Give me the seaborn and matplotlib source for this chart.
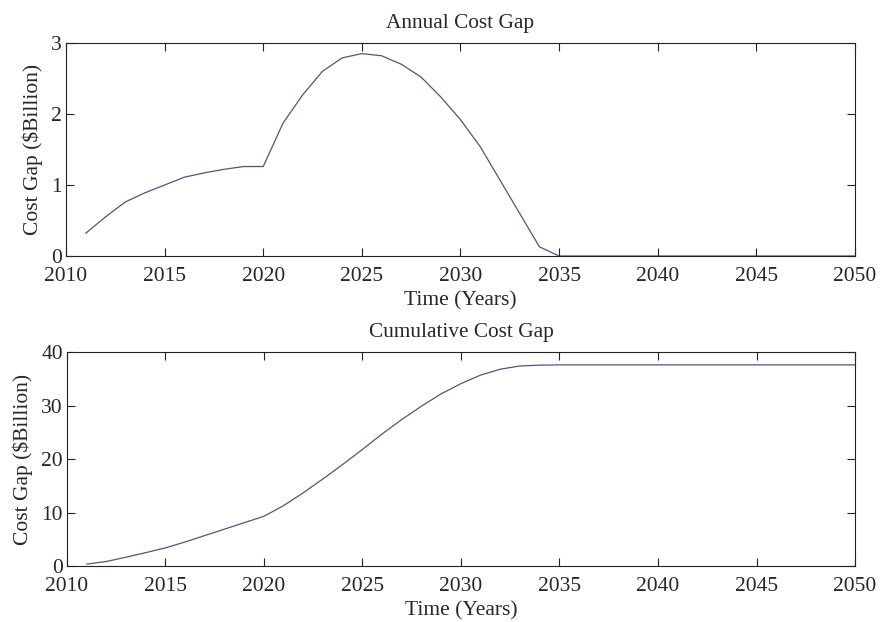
import numpy as np
import pandas as pd
import matplotlib
matplotlib.use("Agg")
import matplotlib.pyplot as plt
import seaborn as sns

# Years covered by the study
years = list(range(2011, 2051))

# Annual cost gap ($Billion)
annual_gap = [0.32, 0.55, 0.76, 0.89, 1.00, 1.11, 1.17, 1.22, 1.26, 1.26,
              1.87, 2.27, 2.60, 2.79, 2.85, 2.82, 2.70, 2.52, 2.24, 1.92,
              1.54, 1.07, 0.60, 0.13, 0.00] + [0.00] * 15

# Cumulative cost gap ($Billion)
cumulative_gap = [0.35, 0.85, 1.65, 2.50, 3.40, 4.50, 5.70, 6.90, 8.10, 9.30,
                  11.3, 13.7, 16.3, 19.0, 21.8, 24.7, 27.4, 29.9, 32.2, 34.1,
                  35.7, 36.8, 37.4, 37.55, 37.6] + [37.6] * 15

x_ticks = [2010, 2015, 2020, 2025, 2030, 2035, 2040, 2045, 2050]
annual_yticks = [0, 1, 2, 3]
cumulative_yticks = [0, 10, 20, 30, 40]

sns.set_style("ticks")
plt.rcParams["font.family"] = ["Liberation Serif", "DejaVu Serif"]
plt.rcParams["font.size"] = 15.5
plt.rcParams["mathtext.default"] = "regular"

df = pd.DataFrame({"year": years, "annual": annual_gap, "cumulative": cumulative_gap})

fig = plt.figure(figsize=(8.81, 6.22), dpi=100)
ax1 = fig.add_axes([0.0749, 0.5884, 0.8956, 0.3425])
ax2 = fig.add_axes([0.0760, 0.0900, 0.8945, 0.3440])

line_color = "#34346e"

panels = [
    (ax1, "annual", "Annual Cost Gap", annual_yticks, (0, 3)),
    (ax2, "cumulative", "Cumulative Cost Gap", cumulative_yticks, (0, 40)),
]

for ax, col, title, yticks, ylim in panels:
    sns.lineplot(data=df, x="year", y=col, ax=ax, color=line_color,
                 linewidth=0.9, alpha=0.85)
    ax.set_xlim(2010, 2050)
    ax.set_ylim(*ylim)
    ax.set_xticks(x_ticks)
    ax.set_yticks(yticks)
    ax.set_title(title, fontsize=15.3, pad=11)
    ax.set_xlabel("Time (Years)", fontsize=15.5, labelpad=4)
    ax.set_ylabel("Cost Gap (\\$Billion)", fontsize=15.5, labelpad=6)
    ax.tick_params(direction="in", length=6, width=0.8, top=True, right=True,
                   labelsize=15.5, color="#222222")
    ax.tick_params(axis="x", pad=8)
    ax.tick_params(axis="y", pad=3)
    for spine in ax.spines.values():
        spine.set_visible(True)
        spine.set_linewidth(0.8)
        spine.set_color("#222222")

fig.savefig("out.png", dpi=100, facecolor="white")
